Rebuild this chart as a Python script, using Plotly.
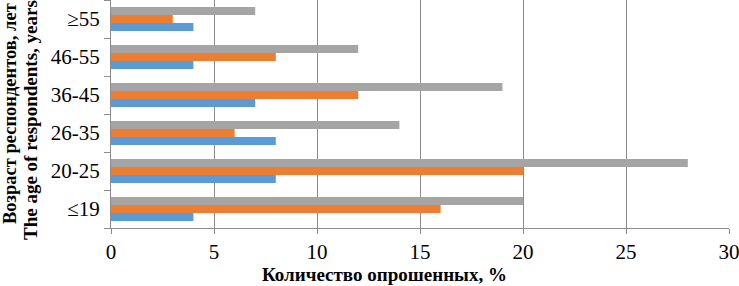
import plotly.graph_objects as go

categories = ["≤19", "20-25", "26-35", "36-45", "46-55", "≥55"]
series_blue = [4, 8, 8, 7, 4, 4]
series_orange = [16, 20, 6, 12, 8, 3]
series_gray = [20, 28, 14, 19, 12, 7]
x_ticks = [0, 5, 10, 15, 20, 25, 30]
x_title = "Количество опрошенных, %"
y_title_ru = "Возраст респондентов, лет"
y_title_en = "The age of respondents, years"

font_family = "Liberation Serif, Times New Roman, serif"

W, H = 739, 286
L, R, T, B = 111, 10, 0, 58
pw, ph = W - L - R, H - T - B

def px_x(px):
    return (px - L) / pw

def px_y(py):
    return (H - B - py) / ph

fig = go.Figure()
for vals, col in [(series_blue, "#5B9BD5"), (series_orange, "#ED7D31"), (series_gray, "#A5A5A5")]:
    fig.add_trace(go.Bar(y=categories, x=vals, orientation="h", marker=dict(color=col, line=dict(width=0)),
                         hoverinfo="skip"))

fig.update_layout(
    width=W, height=H,
    margin=dict(l=L, r=R, t=T, b=B, autoexpand=False),
    barmode="group", bargap=0.37, bargroupgap=0,
    plot_bgcolor="white", paper_bgcolor="white",
    showlegend=False,
    font=dict(family=font_family, color="black", size=21),
)
fig.update_xaxes(
    range=[0, 30], tickvals=x_ticks, showgrid=True, gridcolor="#8C8C8C", gridwidth=1,
    showline=True, linecolor="#8C8C8C", ticks="outside", ticklen=5, tickcolor="#8C8C8C",
    zeroline=False, tickfont=dict(size=21), automargin=False, ticklabeloverflow="allow",
)
fig.update_yaxes(
    type="category", categoryorder="array", categoryarray=categories,
    showline=True, linecolor="#8C8C8C", ticks="outside", ticklen=6, tickcolor="#8C8C8C",
    tickson="boundaries", showgrid=False, tickfont=dict(size=21), automargin=False,
    ticklabelstandoff=6, ticklabeloverflow="allow",
)
fig.add_annotation(text="<b>" + x_title + "</b>", xref="paper", yref="paper",
                   x=px_x(384), y=px_y(274), showarrow=False, font=dict(size=19),
                   xanchor="center", yanchor="middle")
fig.add_annotation(text="<b>" + y_title_ru + "</b>", xref="paper", yref="paper",
                   x=px_x(10), y=px_y(114), showarrow=False, font=dict(size=18.5), textangle=-90,
                   xanchor="center", yanchor="middle")
fig.add_annotation(text="<b>" + y_title_en + "</b>", xref="paper", yref="paper",
                   x=px_x(30), y=px_y(120), showarrow=False, font=dict(size=19), textangle=-90,
                   xanchor="center", yanchor="middle")
fig.write_html("out.html", config={"displayModeBar": False},
               post_script="document.body.style.margin='0';document.body.style.overflow='hidden';")
